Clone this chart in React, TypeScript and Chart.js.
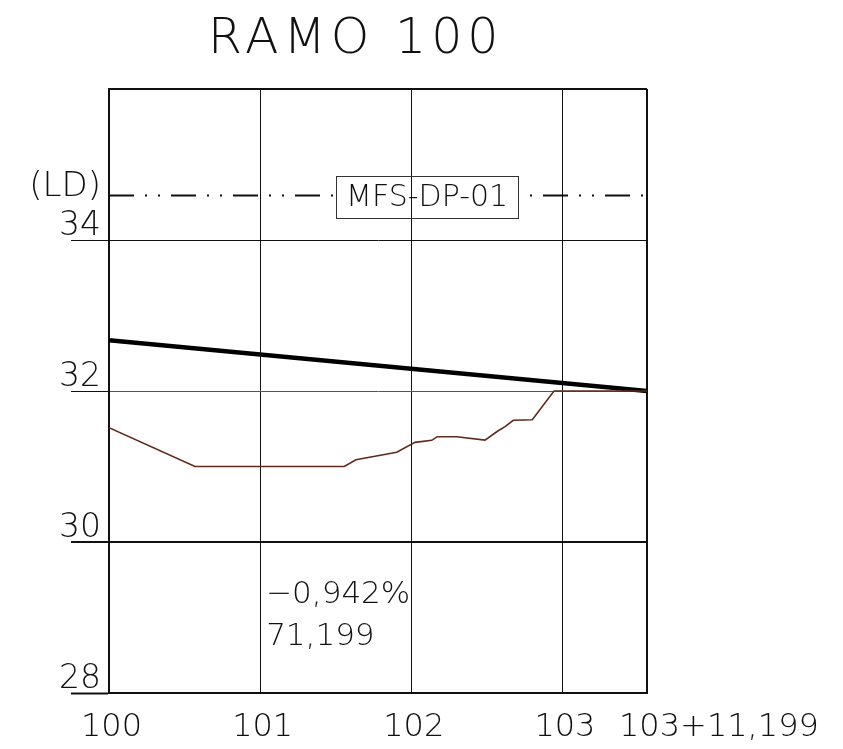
import { useEffect, useRef } from 'react';
import { Chart, registerables } from 'chart.js';

Chart.register(...registerables);

// ---- data ----
const TITLE = 'RAMO 100';
const AXIS_UNIT = '(LD)';
const REF_LABEL = 'MFS-DP-01';
const SLOPE_TEXT = '\u22120,942%';
const LENGTH_TEXT = '71,199';

const STATION_TICKS = [0, 20, 40, 60, 71.199];
const STATION_LABELS = ['100', '101', '102', '103', '103+11,199'];
const ELEV_TICKS = [28, 30, 32, 34, 36];
const ELEV_LABELS = ['28', '30', '32', '34', ''];

const groundX = [0, 11.38, 31.14, 32.69, 38.08, 40.5, 42.71, 43.45, 46.02, 49.76, 51.31, 52.41, 53.51, 56.02, 58.89, 71.199];
const groundY = [31.514, 31.0, 31.0, 31.09, 31.188, 31.32, 31.347, 31.395, 31.395, 31.35, 31.46, 31.527, 31.612, 31.62, 32.0, 32.0];

const gradeX = [0, 71.199];
const gradeY = [32.671, 32.0];

const refX = [0, 71.199];
const refY = [34.59, 34.59];

const REF_LABEL_AT = 42.1;
const SLOPE_TEXT_AT = [20, 29.19];
const LENGTH_TEXT_AT = [20, 28.64];

const FONT = '"DejaVu Sans", sans-serif';
const WEIGHT = 200;
const INK = '#111';

const zip = (xs: number[], ys: number[]) => xs.map((x, i) => ({ x, y: ys[i] }));

const annotations = {
  id: 'annotations',
  afterDatasetsDraw(chart: any) {
    const { ctx, scales } = chart;
    const x = scales.x;
    const y = scales.y;
    ctx.save();

    // reference label box
    ctx.font = `${WEIGHT} 30px ${FONT}`;
    const tw = ctx.measureText(REF_LABEL).width;
    const cx = x.getPixelForValue(REF_LABEL_AT);
    const cy = y.getPixelForValue(refY[0]) + 2;
    const bw = Math.round(tw + 20);
    const bh = 42;
    const bl = Math.round(cx - bw / 2);
    const bt = Math.round(cy - bh / 2);
    ctx.fillStyle = '#fff';
    ctx.fillRect(bl, bt, bw, bh);
    STATION_TICKS.forEach((v) => {
      const px = x.getPixelForValue(v);
      if (px > bl && px < bl + bw) {
        const ax = Math.round(px - 0.5) + 0.5;
        ctx.strokeStyle = INK;
        ctx.lineWidth = 1;
        ctx.beginPath();
        ctx.moveTo(ax, bt);
        ctx.lineTo(ax, bt + bh);
        ctx.stroke();
      }
    });
    ctx.strokeStyle = '#333';
    ctx.lineWidth = 1;
    ctx.strokeRect(bl + 0.5, bt + 0.5, bw, bh);
    ctx.fillStyle = INK;
    ctx.textAlign = 'center';
    ctx.textBaseline = 'middle';
    ctx.fillText(REF_LABEL, cx, cy + 1);

    // slope / length
    ctx.font = `${WEIGHT} 31px ${FONT}`;
    ctx.textAlign = 'left';
    ctx.textBaseline = 'alphabetic';
    ctx.fillText(SLOPE_TEXT, x.getPixelForValue(SLOPE_TEXT_AT[0]) + 6, y.getPixelForValue(SLOPE_TEXT_AT[1]));
    ctx.fillText(LENGTH_TEXT, x.getPixelForValue(LENGTH_TEXT_AT[0]) + 6, y.getPixelForValue(LENGTH_TEXT_AT[1]));

    // unit label
    ctx.font = `${WEIGHT} 34px ${FONT}`;
    ctx.textAlign = 'right';
    ctx.fillText(AXIS_UNIT, 101, 196);

    // title
    ctx.font = `${WEIGHT} 49px ${FONT}`;
    (ctx as any).letterSpacing = '5px';
    ctx.textAlign = 'left';
    ctx.fillText(TITLE, 208, 53);
    ctx.restore();
  },
};

export default function App() {
  const ref = useRef<HTMLCanvasElement | null>(null);

  useEffect(() => {
    if (!ref.current) return;
    const chart = new Chart(ref.current, {
      type: 'line',
      data: {
        datasets: [
          {
            data: zip(groundX, groundY),
            borderColor: '#5e2b1c',
            borderWidth: 1.6,
            pointRadius: 0,
            tension: 0,
          },
          {
            data: zip(gradeX, gradeY),
            borderColor: '#000',
            borderWidth: 4.5,
            pointRadius: 0,
            tension: 0,
          },
          {
            data: zip(refX, refY),
            borderColor: INK,
            borderWidth: 2,
            borderDash: [25, 11, 2, 11, 2, 11],
            pointRadius: 0,
            tension: 0,
          },
        ] as any,
      },
      options: {
        responsive: false,
        animation: false,
        events: [],
        layout: { padding: { top: 89, right: 196, bottom: 0, left: 0 } },
        plugins: { legend: { display: false }, tooltip: { enabled: false }, title: { display: false } },
        scales: {
          x: {
            type: 'linear',
            min: 0,
            max: 71.199,
            afterBuildTicks: (s: any) => {
              s.ticks = STATION_TICKS.map((value) => ({ value }));
            },
            afterFit: (s: any) => {
              s.height = 56;
              s.paddingLeft = 0;
              s.paddingRight = 0;
            },
            border: { display: true, color: INK, width: 2 },
            grid: {
              drawTicks: false,
              color: INK,
              lineWidth: (c: any) => (c.tick && c.tick.value === 71.199 ? 2 : 1),
            },
            ticks: {
              autoSkip: false,
              maxRotation: 0,
              align: 'start',
              labelOffset: -28,
              padding: 15,
              color: INK,
              font: { family: FONT, size: 32, weight: WEIGHT },
              callback: (v: any) => {
                const i = STATION_TICKS.indexOf(Number(v));
                return i >= 0 ? STATION_LABELS[i] : '';
              },
            },
          },
          y: {
            type: 'linear',
            min: 28,
            max: 36,
            afterBuildTicks: (s: any) => {
              s.ticks = ELEV_TICKS.map((value) => ({ value }));
            },
            afterFit: (s: any) => {
              s.width = 109;
            },
            border: { display: true, color: INK, width: 2 },
            grid: {
              tickLength: 38,
              color: (c: any) => (c.tick && c.tick.value === 32 ? '#555' : INK),
              lineWidth: (c: any) => (c.tick && (c.tick.value === 30 || c.tick.value === 36) ? 2 : 1),
              tickColor: (c: any) => (c.tick && c.tick.value === 36 ? 'rgba(0,0,0,0)' : INK),
              tickWidth: (c: any) => (c.tick && (c.tick.value === 30 || c.tick.value === 28) ? 2 : 1),
            },
            ticks: {
              autoSkip: false,
              padding: -30,
              labelOffset: -14,
              color: INK,
              font: { family: FONT, size: 33, weight: WEIGHT },
              callback: (v: any) => {
                const i = ELEV_TICKS.indexOf(Number(v));
                return i >= 0 ? ELEV_LABELS[i] : '';
              },
            },
          },
        },
      } as any,
      plugins: [annotations],
    });
    return () => chart.destroy();
  }, []);

  return (
    <div style={{ position: 'fixed', left: 0, top: 0, width: 843, height: 749, background: '#fff' }}>
      <canvas ref={ref} width={843} height={749} style={{ display: 'block' }} />
    </div>
  );
}
